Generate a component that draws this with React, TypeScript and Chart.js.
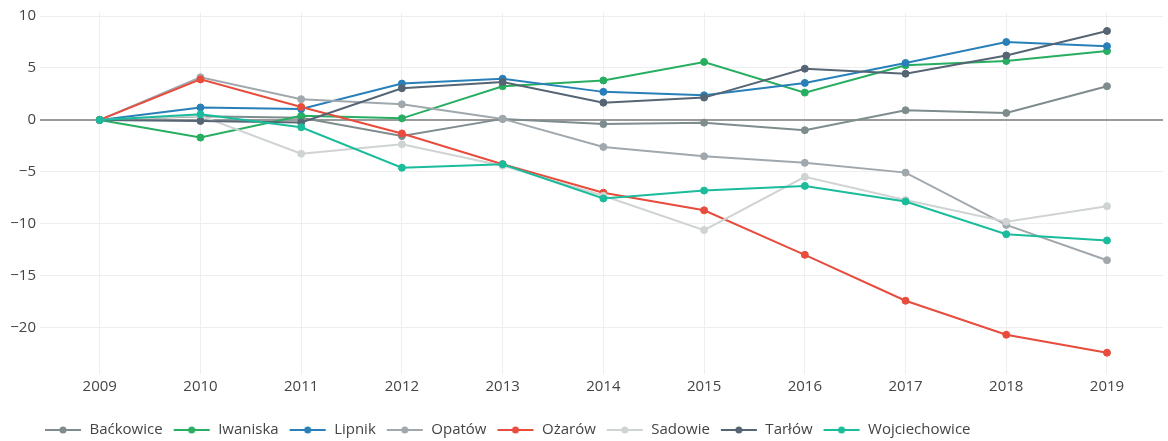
import React, { useEffect, useRef } from "react";
import { Chart, registerables } from "chart.js";

Chart.register(...registerables);

const years = [2009, 2010, 2011, 2012, 2013, 2014, 2015, 2016, 2017, 2018, 2019];
const yTicks = [-20, -15, -10, -5, 0, 5, 10];

const seriesNames = ["Baćkowice", "Iwaniska", "Lipnik", "Opatów", "Ożarów", "Sadowie", "Tarłów", "Wojciechowice"];
const seriesColors = ["#7f8c8d", "#27ae60", "#2980b9", "#a1a8ad", "#e74c3c", "#d0d3d4", "#566573", "#1abc9c"];

const backowice = [0, 0.35, 0.2, -1.55, 0.1, -0.4, -0.26, -0.99, 0.93, 0.67, 3.24];
const iwaniska = [0, -1.7, 0.4, 0.15, 3.24, 3.8, 5.58, 2.63, 5.26, 5.67, 6.63];
const lipnik = [0, 1.2, 1.05, 3.5, 3.97, 2.7, 2.37, 3.56, 5.48, 7.5, 7.1];
const opatow = [0, 4.1, 2.0, 1.5, 0.1, -2.6, -3.5, -4.13, -5.07, -10.1, -13.5];
const ozarow = [0, 3.9, 1.25, -1.3, -4.26, -7.0, -8.7, -12.98, -17.4, -20.67, -22.4];
const sadowie = [0, 0.4, -3.25, -2.35, -4.4, -7.3, -10.6, -5.48, -7.7, -9.8, -8.3];
const tarlow = [0, -0.1, -0.25, 3.05, 3.65, 1.66, 2.15, 4.93, 4.45, 6.2, 8.56];
const wojciechowice = [0, 0.55, -0.7, -4.6, -4.26, -7.56, -6.8, -6.35, -7.85, -11.0, -11.6];

const seriesValues = [backowice, iwaniska, lipnik, opatow, ozarow, sadowie, tarlow, wojciechowice];

const FONT = "'Open Sans', 'Noto Sans', sans-serif";
const FONT_SIZE = 15;
const LEGEND_FONT_SIZE = 15;
const PLOT_BOTTOM = 374;
const LEGEND_LEFT = 34;
const LEGEND_CENTER_Y = 430;
const LEGEND_PAD = 5;

function makeLegendIcon(color: string): HTMLCanvasElement {
  const c = document.createElement("canvas");
  c.width = 43;
  c.height = 10;
  const g = c.getContext("2d")!;
  g.strokeStyle = color;
  g.lineWidth = 2;
  g.beginPath();
  g.moveTo(6, 5);
  g.lineTo(42, 5);
  g.stroke();
  g.fillStyle = color;
  g.beginPath();
  g.arc(24, 5, 3.5, 0, Math.PI * 2);
  g.fill();
  return c;
}

const legendPlacer = {
  id: "legendPlacer",
  afterLayout(chart: any) {
    const l = chart.legend;
    if (!l) return;
    const w = l.width;
    const h = l.height;
    l.left = LEGEND_LEFT;
    l.right = LEGEND_LEFT + w;
    l.top = LEGEND_CENTER_Y - LEGEND_PAD - LEGEND_FONT_SIZE / 2;
    l.bottom = l.top + h;
  },
};

export default function App() {
  const ref = useRef<HTMLCanvasElement | null>(null);

  useEffect(() => {
    if (!ref.current) return;
    const icons = seriesColors.map((c) => makeLegendIcon(c));
    const n = seriesNames.length;
    const chart = new Chart(ref.current, {
      type: "line",
      data: {
        datasets: seriesNames.map((name, i) => ({
          label: name,
          data: years.map((y, j) => ({ x: y, y: seriesValues[i][j] })),
          borderColor: seriesColors[i],
          backgroundColor: seriesColors[i],
          pointBackgroundColor: seriesColors[i],
          pointBorderColor: seriesColors[i],
          pointRadius: 3.5,
          pointBorderWidth: 1,
          borderWidth: 2,
          tension: 0,
          fill: false,
          order: n - i,
        })),
      },
      plugins: [legendPlacer],
      options: {
        responsive: false,
        animation: false,
        layout: { padding: { left: 0, top: 12, right: 0, bottom: 0 } },
        plugins: {
          tooltip: { enabled: false },
          legend: {
            position: "bottom",
            align: "start",
            labels: {
              usePointStyle: true,
              pointStyleWidth: 43,
              padding: LEGEND_PAD,
              color: "#444",
              font: { family: FONT, size: LEGEND_FONT_SIZE },
              generateLabels: (ch: any) =>
                ch.data.datasets.map((ds: any, i: number) => ({
                  text: ds.label,
                  fillStyle: ds.borderColor,
                  strokeStyle: ds.borderColor,
                  lineWidth: 0,
                  pointStyle: icons[i],
                  hidden: false,
                  datasetIndex: i,
                  fontColor: "#444",
                })),
            },
          },
        },
        scales: {
          x: {
            type: "linear",
            min: 2008.407,
            max: 2019.556,
            afterFit: (s: any) => {
              const lh = s.chart.legend ? s.chart.legend.height : 0;
              s.height = 441 - PLOT_BOTTOM - lh;
            },
            afterBuildTicks: (s: any) => {
              s.ticks = years.map((v) => ({ value: v }));
            },
            ticks: {
              padding: 4,
              color: "#444",
              font: { family: FONT, size: FONT_SIZE },
              maxRotation: 0,
              autoSkip: false,
              callback: (v: any) => String(v),
            },
            grid: { color: "#eeeeee", lineWidth: 1, drawTicks: false },
            border: { display: false },
          },
          y: {
            type: "linear",
            min: -24.45,
            max: 10.29,
            afterFit: (s: any) => {
              s.width = 40;
            },
            afterBuildTicks: (s: any) => {
              s.ticks = yTicks.map((v) => ({ value: v }));
            },
            ticks: {
              padding: 4,
              color: "#444",
              font: { family: FONT, size: FONT_SIZE },
              callback: (v: any) => (v < 0 ? "\u2212" + Math.abs(v) : String(v)),
            },
            grid: {
              color: (ctx: any) => (ctx.tick && ctx.tick.value === 0 ? "#9a9a9a" : "#eeeeee"),
              lineWidth: (ctx: any) => (ctx.tick && ctx.tick.value === 0 ? 2 : 1),
              drawTicks: false,
            },
            border: { display: false },
          },
        },
      },
    });
    return () => chart.destroy();
  }, []);

  return (
    <div style={{ position: "absolute", left: 0, top: 0, width: 1168, height: 441, background: "#fff" }}>
      <canvas ref={ref} width={1168} height={441} />
    </div>
  );
}
